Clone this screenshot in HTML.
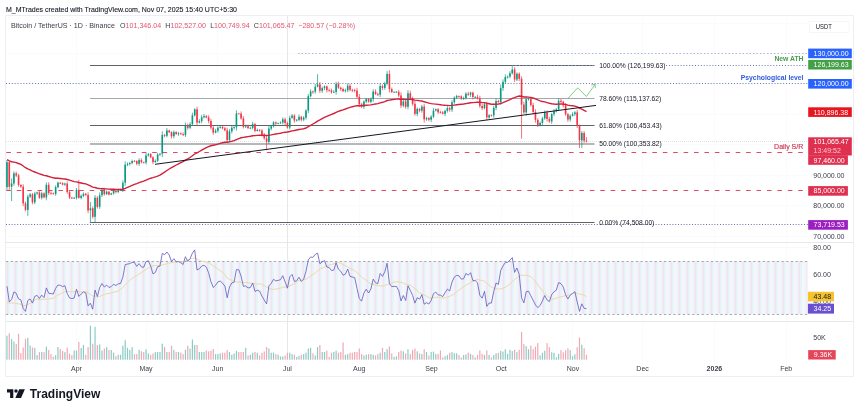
<!DOCTYPE html>
<html><head><meta charset="utf-8"><style>
html,body{margin:0;padding:0;background:#fff;overflow:hidden;}
svg{display:block;font-family:'Liberation Sans', Arial, sans-serif;will-change:transform;}
</style></head><body>
<svg width="860" height="412" viewBox="0 0 860 412">
<rect width="860" height="412" fill="#fff"/>
<path d="M76.5 16V376" stroke="#fafbfc" stroke-width="1"/>
<path d="M146.5 16V376" stroke="#fafbfc" stroke-width="1"/>
<path d="M217.5 16V376" stroke="#fafbfc" stroke-width="1"/>
<path d="M287.5 16V376" stroke="#fafbfc" stroke-width="1"/>
<path d="M359.5 16V376" stroke="#fafbfc" stroke-width="1"/>
<path d="M431.5 16V376" stroke="#fafbfc" stroke-width="1"/>
<path d="M501.5 16V376" stroke="#fafbfc" stroke-width="1"/>
<path d="M572.5 16V376" stroke="#fafbfc" stroke-width="1"/>
<path d="M642.5 16V376" stroke="#fafbfc" stroke-width="1"/>
<path d="M714.5 16V376" stroke="#fafbfc" stroke-width="1"/>
<path d="M786.5 16V376" stroke="#fafbfc" stroke-width="1"/>
<path d="M6 23.5H808" stroke="#fafbfc" stroke-width="1"/>
<path d="M6 53.5H808" stroke="#fafbfc" stroke-width="1"/>
<path d="M6 83.5H808" stroke="#fafbfc" stroke-width="1"/>
<path d="M6 114.5H808" stroke="#fafbfc" stroke-width="1"/>
<path d="M6 144.5H808" stroke="#fafbfc" stroke-width="1"/>
<path d="M6 175.5H808" stroke="#fafbfc" stroke-width="1"/>
<path d="M6 205.5H808" stroke="#fafbfc" stroke-width="1"/>
<path d="M6 236.5H808" stroke="#fafbfc" stroke-width="1"/>
<path d="M6 247.5H808" stroke="#f7f8fa" stroke-width="1"/>
<path d="M6 274.5H808" stroke="#f7f8fa" stroke-width="1"/>
<path d="M6 301.5H808" stroke="#f7f8fa" stroke-width="1"/>
<path d="M287.5 16V360" stroke="#e6e7eb" stroke-width="1"/>
<path d="M5.5 15.5V376.5H853.5V15.5H5.5" fill="none" stroke="#eceef2" stroke-width="1"/>
<path d="M6 242.5H853M6 321.5H853" stroke="#e6e8ed" stroke-width="1"/>
<path d="M298 53.5H808" stroke="#a9b8e0" stroke-width="1" stroke-dasharray="1.5 2"/>
<path d="M6 83.5H808" stroke="#6878b8" stroke-width="1" stroke-dasharray="1 1.9"/>
<path d="M666 65.5H808" stroke="#6878b8" stroke-width="1" stroke-dasharray="1 1.9"/>
<path d="M6.3 152.5H808" stroke="#e04a63" stroke-width="1" stroke-dasharray="4.6 5.82"/>
<path d="M6.3 190.5H808" stroke="#e04a63" stroke-width="1" stroke-dasharray="4.6 5.82"/>
<path d="M6 224.5H808" stroke="#7c64b4" stroke-width="1" stroke-dasharray="1 1.8"/>
<path d="M6 141.5H808" stroke="#e0e2e6" stroke-width="1" stroke-dasharray="1 1"/>
<path d="M90 65.5H594.5" stroke="#606269" stroke-width="1"/>
<path d="M90 98.5H594.5" stroke="#a4a7ae" stroke-width="1"/>
<path d="M90 125.5H594.5" stroke="#606269" stroke-width="1"/>
<path d="M90 144H594.5" stroke="#b4b8b9" stroke-width="2"/>
<path d="M90 222.5H594.5" stroke="#606269" stroke-width="1"/>
<path d="M512 65.5H595" stroke="#8a9bd0" stroke-width="1" stroke-dasharray="1 2.5"/>
<path d="M6.96 160.0V190.3" stroke="#089981" stroke-width="0.7"/>
<rect x="6.16" y="162.2" width="1.6" height="25.0" fill="#089981"/>
<path d="M9.28 161.8V190.1" stroke="#F23645" stroke-width="0.7"/>
<rect x="8.48" y="162.2" width="1.6" height="24.5" fill="#F23645"/>
<path d="M11.60 178.5V201.1" stroke="#089981" stroke-width="0.7"/>
<rect x="10.80" y="183.5" width="1.6" height="3.2" fill="#089981"/>
<path d="M13.91 171.4V185.7" stroke="#089981" stroke-width="0.7"/>
<rect x="13.11" y="173.4" width="1.6" height="10.1" fill="#089981"/>
<path d="M16.23 171.6V177.1" stroke="#F23645" stroke-width="0.7"/>
<rect x="15.43" y="173.4" width="1.6" height="2.1" fill="#F23645"/>
<path d="M18.55 173.7V186.7" stroke="#F23645" stroke-width="0.7"/>
<rect x="17.75" y="175.4" width="1.6" height="9.5" fill="#F23645"/>
<path d="M20.87 184.3V187.8" stroke="#F23645" stroke-width="0.7"/>
<rect x="20.07" y="184.9" width="1.6" height="1.8" fill="#F23645"/>
<path d="M23.19 184.3V206.2" stroke="#F23645" stroke-width="0.7"/>
<rect x="22.39" y="186.7" width="1.6" height="16.7" fill="#F23645"/>
<path d="M25.50 201.6V211.3" stroke="#F23645" stroke-width="0.7"/>
<rect x="24.70" y="203.4" width="1.6" height="6.5" fill="#F23645"/>
<path d="M27.82 194.7V215.9" stroke="#089981" stroke-width="0.7"/>
<rect x="27.02" y="196.7" width="1.6" height="13.2" fill="#089981"/>
<path d="M30.14 193.0V198.0" stroke="#089981" stroke-width="0.7"/>
<rect x="29.34" y="194.4" width="1.6" height="2.3" fill="#089981"/>
<path d="M32.46 193.1V204.3" stroke="#F23645" stroke-width="0.7"/>
<rect x="31.66" y="194.4" width="1.6" height="8.0" fill="#F23645"/>
<path d="M34.78 191.8V204.2" stroke="#089981" stroke-width="0.7"/>
<rect x="33.98" y="193.5" width="1.6" height="8.8" fill="#089981"/>
<path d="M37.09 191.6V194.8" stroke="#089981" stroke-width="0.7"/>
<rect x="36.29" y="192.4" width="1.6" height="1.1" fill="#089981"/>
<path d="M39.41 190.9V198.9" stroke="#F23645" stroke-width="0.7"/>
<rect x="38.61" y="192.4" width="1.6" height="5.4" fill="#F23645"/>
<path d="M41.73 191.9V199.5" stroke="#089981" stroke-width="0.7"/>
<rect x="40.93" y="193.4" width="1.6" height="4.4" fill="#089981"/>
<path d="M44.05 192.3V198.4" stroke="#F23645" stroke-width="0.7"/>
<rect x="43.25" y="193.4" width="1.6" height="3.9" fill="#F23645"/>
<path d="M46.37 182.4V200.3" stroke="#089981" stroke-width="0.7"/>
<rect x="45.57" y="184.8" width="1.6" height="12.6" fill="#089981"/>
<path d="M48.68 182.3V195.0" stroke="#F23645" stroke-width="0.7"/>
<rect x="47.88" y="184.8" width="1.6" height="8.2" fill="#F23645"/>
<path d="M51.00 191.5V194.7" stroke="#F23645" stroke-width="0.7"/>
<rect x="50.20" y="192.9" width="1.6" height="0.8" fill="#F23645"/>
<path d="M53.32 192.5V194.5" stroke="#F23645" stroke-width="0.7"/>
<rect x="52.52" y="193.3" width="1.6" height="0.8" fill="#F23645"/>
<path d="M55.64 185.3V195.8" stroke="#089981" stroke-width="0.7"/>
<rect x="54.84" y="187.2" width="1.6" height="6.8" fill="#089981"/>
<path d="M57.96 181.5V188.3" stroke="#089981" stroke-width="0.7"/>
<rect x="57.16" y="182.8" width="1.6" height="4.4" fill="#089981"/>
<path d="M60.27 181.9V184.1" stroke="#F23645" stroke-width="0.7"/>
<rect x="59.47" y="182.8" width="1.6" height="0.8" fill="#F23645"/>
<path d="M62.59 182.3V185.5" stroke="#F23645" stroke-width="0.7"/>
<rect x="61.79" y="183.1" width="1.6" height="1.5" fill="#F23645"/>
<path d="M64.91 182.6V186.1" stroke="#089981" stroke-width="0.7"/>
<rect x="64.11" y="183.6" width="1.6" height="1.0" fill="#089981"/>
<path d="M67.23 181.5V193.9" stroke="#F23645" stroke-width="0.7"/>
<rect x="66.43" y="183.6" width="1.6" height="8.5" fill="#F23645"/>
<path d="M69.55 190.8V199.1" stroke="#F23645" stroke-width="0.7"/>
<rect x="68.75" y="192.2" width="1.6" height="5.4" fill="#F23645"/>
<path d="M71.86 196.9V199.0" stroke="#F23645" stroke-width="0.7"/>
<rect x="71.06" y="197.6" width="1.6" height="0.8" fill="#F23645"/>
<path d="M74.18 196.9V198.8" stroke="#089981" stroke-width="0.7"/>
<rect x="73.38" y="197.9" width="1.6" height="0.8" fill="#089981"/>
<path d="M76.50 188.1V199.6" stroke="#089981" stroke-width="0.7"/>
<rect x="75.70" y="189.9" width="1.6" height="7.9" fill="#089981"/>
<path d="M78.82 179.8V198.6" stroke="#F23645" stroke-width="0.7"/>
<rect x="78.02" y="189.9" width="1.6" height="8.0" fill="#F23645"/>
<path d="M81.14 194.4V199.4" stroke="#089981" stroke-width="0.7"/>
<rect x="80.34" y="195.8" width="1.6" height="2.1" fill="#089981"/>
<path d="M83.45 192.4V197.2" stroke="#089981" stroke-width="0.7"/>
<rect x="82.65" y="193.8" width="1.6" height="2.1" fill="#089981"/>
<path d="M85.77 192.9V196.1" stroke="#F23645" stroke-width="0.7"/>
<rect x="84.97" y="193.8" width="1.6" height="1.1" fill="#F23645"/>
<path d="M88.09 192.3V213.2" stroke="#F23645" stroke-width="0.7"/>
<rect x="87.29" y="194.9" width="1.6" height="15.5" fill="#F23645"/>
<path d="M90.41 202.0V222.3" stroke="#089981" stroke-width="0.7"/>
<rect x="89.61" y="208.2" width="1.6" height="2.2" fill="#089981"/>
<path d="M92.73 206.4V218.6" stroke="#F23645" stroke-width="0.7"/>
<rect x="91.93" y="208.2" width="1.6" height="8.6" fill="#F23645"/>
<path d="M95.04 195.0V222.0" stroke="#089981" stroke-width="0.7"/>
<rect x="94.24" y="197.7" width="1.6" height="19.1" fill="#089981"/>
<path d="M97.36 196.2V208.5" stroke="#F23645" stroke-width="0.7"/>
<rect x="96.56" y="197.7" width="1.6" height="9.2" fill="#F23645"/>
<path d="M99.68 192.4V208.8" stroke="#089981" stroke-width="0.7"/>
<rect x="98.88" y="195.2" width="1.6" height="11.6" fill="#089981"/>
<path d="M102.00 187.7V197.0" stroke="#089981" stroke-width="0.7"/>
<rect x="101.20" y="189.6" width="1.6" height="5.6" fill="#089981"/>
<path d="M104.32 187.8V195.6" stroke="#F23645" stroke-width="0.7"/>
<rect x="103.52" y="189.6" width="1.6" height="4.6" fill="#F23645"/>
<path d="M106.63 190.3V194.9" stroke="#089981" stroke-width="0.7"/>
<rect x="105.83" y="191.7" width="1.6" height="2.5" fill="#089981"/>
<path d="M108.95 190.9V195.5" stroke="#F23645" stroke-width="0.7"/>
<rect x="108.15" y="191.7" width="1.6" height="2.9" fill="#F23645"/>
<path d="M111.27 192.7V195.1" stroke="#089981" stroke-width="0.7"/>
<rect x="110.47" y="193.4" width="1.6" height="1.2" fill="#089981"/>
<path d="M113.59 189.7V194.7" stroke="#089981" stroke-width="0.7"/>
<rect x="112.79" y="190.6" width="1.6" height="2.8" fill="#089981"/>
<path d="M115.91 189.8V193.6" stroke="#F23645" stroke-width="0.7"/>
<rect x="115.11" y="190.6" width="1.6" height="1.4" fill="#F23645"/>
<path d="M118.22 188.8V193.2" stroke="#089981" stroke-width="0.7"/>
<rect x="117.42" y="190.2" width="1.6" height="1.8" fill="#089981"/>
<path d="M120.54 188.7V190.9" stroke="#089981" stroke-width="0.7"/>
<rect x="119.74" y="189.9" width="1.6" height="0.8" fill="#089981"/>
<path d="M122.86 180.4V192.0" stroke="#089981" stroke-width="0.7"/>
<rect x="122.06" y="182.8" width="1.6" height="7.1" fill="#089981"/>
<path d="M125.18 161.3V185.9" stroke="#089981" stroke-width="0.7"/>
<rect x="124.38" y="164.7" width="1.6" height="18.0" fill="#089981"/>
<path d="M127.50 162.4V166.2" stroke="#089981" stroke-width="0.7"/>
<rect x="126.70" y="164.0" width="1.6" height="0.8" fill="#089981"/>
<path d="M129.81 161.8V165.6" stroke="#089981" stroke-width="0.7"/>
<rect x="129.01" y="163.1" width="1.6" height="0.9" fill="#089981"/>
<path d="M132.13 159.6V164.2" stroke="#089981" stroke-width="0.7"/>
<rect x="131.33" y="161.1" width="1.6" height="2.0" fill="#089981"/>
<path d="M134.45 160.0V161.8" stroke="#F23645" stroke-width="0.7"/>
<rect x="133.65" y="161.1" width="1.6" height="0.8" fill="#F23645"/>
<path d="M136.77 160.2V165.4" stroke="#F23645" stroke-width="0.7"/>
<rect x="135.97" y="161.1" width="1.6" height="2.7" fill="#F23645"/>
<path d="M139.09 158.2V165.9" stroke="#089981" stroke-width="0.7"/>
<rect x="138.29" y="160.1" width="1.6" height="3.7" fill="#089981"/>
<path d="M141.40 158.3V163.5" stroke="#F23645" stroke-width="0.7"/>
<rect x="140.60" y="160.1" width="1.6" height="2.1" fill="#F23645"/>
<path d="M143.72 161.6V163.4" stroke="#F23645" stroke-width="0.7"/>
<rect x="142.92" y="162.2" width="1.6" height="0.8" fill="#F23645"/>
<path d="M146.04 153.0V164.6" stroke="#089981" stroke-width="0.7"/>
<rect x="145.24" y="155.5" width="1.6" height="7.0" fill="#089981"/>
<path d="M148.36 153.0V156.6" stroke="#089981" stroke-width="0.7"/>
<rect x="147.56" y="154.2" width="1.6" height="1.3" fill="#089981"/>
<path d="M150.68 153.1V158.3" stroke="#F23645" stroke-width="0.7"/>
<rect x="149.88" y="154.2" width="1.6" height="3.1" fill="#F23645"/>
<path d="M152.99 156.2V164.2" stroke="#F23645" stroke-width="0.7"/>
<rect x="152.19" y="157.3" width="1.6" height="4.8" fill="#F23645"/>
<path d="M155.31 159.4V162.8" stroke="#089981" stroke-width="0.7"/>
<rect x="154.51" y="160.8" width="1.6" height="1.3" fill="#089981"/>
<path d="M157.63 152.8V162.0" stroke="#089981" stroke-width="0.7"/>
<rect x="156.83" y="154.5" width="1.6" height="6.3" fill="#089981"/>
<path d="M159.95 153.0V156.0" stroke="#089981" stroke-width="0.7"/>
<rect x="159.15" y="153.8" width="1.6" height="0.8" fill="#089981"/>
<path d="M162.27 131.3V157.1" stroke="#089981" stroke-width="0.7"/>
<rect x="161.47" y="134.9" width="1.6" height="18.9" fill="#089981"/>
<path d="M164.58 134.0V137.2" stroke="#F23645" stroke-width="0.7"/>
<rect x="163.78" y="134.9" width="1.6" height="0.8" fill="#F23645"/>
<path d="M166.90 128.1V137.4" stroke="#089981" stroke-width="0.7"/>
<rect x="166.10" y="130.5" width="1.6" height="5.3" fill="#089981"/>
<path d="M169.22 129.7V133.0" stroke="#F23645" stroke-width="0.7"/>
<rect x="168.42" y="130.5" width="1.6" height="1.8" fill="#F23645"/>
<path d="M171.54 131.3V138.5" stroke="#F23645" stroke-width="0.7"/>
<rect x="170.74" y="132.3" width="1.6" height="3.9" fill="#F23645"/>
<path d="M173.86 130.4V138.3" stroke="#089981" stroke-width="0.7"/>
<rect x="173.06" y="132.1" width="1.6" height="4.1" fill="#089981"/>
<path d="M176.17 131.2V135.0" stroke="#F23645" stroke-width="0.7"/>
<rect x="175.37" y="132.1" width="1.6" height="1.9" fill="#F23645"/>
<path d="M178.49 131.9V135.8" stroke="#089981" stroke-width="0.7"/>
<rect x="177.69" y="133.4" width="1.6" height="0.8" fill="#089981"/>
<path d="M180.81 132.4V134.8" stroke="#F23645" stroke-width="0.7"/>
<rect x="180.01" y="133.4" width="1.6" height="0.8" fill="#F23645"/>
<path d="M183.13 132.4V136.0" stroke="#F23645" stroke-width="0.7"/>
<rect x="182.33" y="134.2" width="1.6" height="0.9" fill="#F23645"/>
<path d="M185.45 122.5V136.9" stroke="#089981" stroke-width="0.7"/>
<rect x="184.65" y="125.2" width="1.6" height="9.9" fill="#089981"/>
<path d="M187.76 123.4V129.7" stroke="#F23645" stroke-width="0.7"/>
<rect x="186.96" y="125.2" width="1.6" height="2.6" fill="#F23645"/>
<path d="M190.08 122.2V129.1" stroke="#089981" stroke-width="0.7"/>
<rect x="189.28" y="124.1" width="1.6" height="3.6" fill="#089981"/>
<path d="M192.40 112.7V125.8" stroke="#089981" stroke-width="0.7"/>
<rect x="191.60" y="115.3" width="1.6" height="8.8" fill="#089981"/>
<path d="M194.72 108.3V116.5" stroke="#089981" stroke-width="0.7"/>
<rect x="193.92" y="109.3" width="1.6" height="6.1" fill="#089981"/>
<path d="M197.04 106.7V125.3" stroke="#F23645" stroke-width="0.7"/>
<rect x="196.24" y="109.3" width="1.6" height="13.3" fill="#F23645"/>
<path d="M199.35 119.2V123.5" stroke="#089981" stroke-width="0.7"/>
<rect x="198.55" y="121.1" width="1.6" height="1.5" fill="#089981"/>
<path d="M201.67 115.1V123.2" stroke="#089981" stroke-width="0.7"/>
<rect x="200.87" y="117.3" width="1.6" height="3.8" fill="#089981"/>
<path d="M203.99 114.0V118.4" stroke="#089981" stroke-width="0.7"/>
<rect x="203.19" y="116.1" width="1.6" height="1.2" fill="#089981"/>
<path d="M206.31 115.1V118.4" stroke="#F23645" stroke-width="0.7"/>
<rect x="205.51" y="116.1" width="1.6" height="1.4" fill="#F23645"/>
<path d="M208.63 115.3V123.3" stroke="#F23645" stroke-width="0.7"/>
<rect x="207.83" y="117.4" width="1.6" height="3.6" fill="#F23645"/>
<path d="M210.94 118.8V129.5" stroke="#F23645" stroke-width="0.7"/>
<rect x="210.14" y="121.0" width="1.6" height="6.6" fill="#F23645"/>
<path d="M213.26 126.2V134.8" stroke="#F23645" stroke-width="0.7"/>
<rect x="212.46" y="127.6" width="1.6" height="5.0" fill="#F23645"/>
<path d="M215.58 128.8V133.4" stroke="#089981" stroke-width="0.7"/>
<rect x="214.78" y="130.7" width="1.6" height="1.9" fill="#089981"/>
<path d="M217.90 126.5V132.7" stroke="#089981" stroke-width="0.7"/>
<rect x="217.10" y="127.6" width="1.6" height="3.1" fill="#089981"/>
<path d="M220.22 125.1V128.6" stroke="#089981" stroke-width="0.7"/>
<rect x="219.42" y="126.9" width="1.6" height="0.8" fill="#089981"/>
<path d="M222.53 125.9V129.5" stroke="#F23645" stroke-width="0.7"/>
<rect x="221.73" y="126.9" width="1.6" height="1.4" fill="#F23645"/>
<path d="M224.85 126.8V131.2" stroke="#F23645" stroke-width="0.7"/>
<rect x="224.05" y="128.3" width="1.6" height="2.1" fill="#F23645"/>
<path d="M227.17 127.6V142.3" stroke="#F23645" stroke-width="0.7"/>
<rect x="226.37" y="130.4" width="1.6" height="9.6" fill="#F23645"/>
<path d="M229.49 128.9V141.8" stroke="#089981" stroke-width="0.7"/>
<rect x="228.69" y="131.4" width="1.6" height="8.6" fill="#089981"/>
<path d="M231.81 125.4V133.4" stroke="#089981" stroke-width="0.7"/>
<rect x="231.01" y="127.7" width="1.6" height="3.7" fill="#089981"/>
<path d="M234.12 126.2V129.6" stroke="#089981" stroke-width="0.7"/>
<rect x="233.32" y="127.2" width="1.6" height="0.8" fill="#089981"/>
<path d="M236.44 110.3V130.5" stroke="#089981" stroke-width="0.7"/>
<rect x="235.64" y="113.5" width="1.6" height="13.7" fill="#089981"/>
<path d="M238.76 112.9V114.1" stroke="#F23645" stroke-width="0.7"/>
<rect x="237.96" y="113.5" width="1.6" height="0.8" fill="#F23645"/>
<path d="M241.08 111.4V119.8" stroke="#F23645" stroke-width="0.7"/>
<rect x="240.28" y="113.6" width="1.6" height="4.8" fill="#F23645"/>
<path d="M243.40 116.1V128.4" stroke="#F23645" stroke-width="0.7"/>
<rect x="242.60" y="118.4" width="1.6" height="8.4" fill="#F23645"/>
<path d="M245.71 124.6V127.9" stroke="#089981" stroke-width="0.7"/>
<rect x="244.91" y="126.4" width="1.6" height="0.8" fill="#089981"/>
<path d="M248.03 124.6V128.9" stroke="#F23645" stroke-width="0.7"/>
<rect x="247.23" y="126.4" width="1.6" height="1.7" fill="#F23645"/>
<path d="M250.35 126.7V128.7" stroke="#089981" stroke-width="0.7"/>
<rect x="249.55" y="127.9" width="1.6" height="0.8" fill="#089981"/>
<path d="M252.67 121.9V129.4" stroke="#089981" stroke-width="0.7"/>
<rect x="251.87" y="124.1" width="1.6" height="3.8" fill="#089981"/>
<path d="M254.99 122.8V132.3" stroke="#F23645" stroke-width="0.7"/>
<rect x="254.19" y="124.1" width="1.6" height="6.8" fill="#F23645"/>
<path d="M257.30 128.6V131.6" stroke="#089981" stroke-width="0.7"/>
<rect x="256.50" y="129.9" width="1.6" height="1.0" fill="#089981"/>
<path d="M259.62 129.1V131.7" stroke="#F23645" stroke-width="0.7"/>
<rect x="258.82" y="129.9" width="1.6" height="0.8" fill="#F23645"/>
<path d="M261.94 129.0V136.5" stroke="#F23645" stroke-width="0.7"/>
<rect x="261.14" y="130.6" width="1.6" height="4.1" fill="#F23645"/>
<path d="M264.26 133.0V139.7" stroke="#F23645" stroke-width="0.7"/>
<rect x="263.46" y="134.7" width="1.6" height="3.6" fill="#F23645"/>
<path d="M266.58 134.7V150.3" stroke="#F23645" stroke-width="0.7"/>
<rect x="265.78" y="138.3" width="1.6" height="3.5" fill="#F23645"/>
<path d="M268.89 125.6V144.1" stroke="#089981" stroke-width="0.7"/>
<rect x="268.09" y="128.6" width="1.6" height="13.3" fill="#089981"/>
<path d="M271.21 125.2V130.4" stroke="#089981" stroke-width="0.7"/>
<rect x="270.41" y="126.3" width="1.6" height="2.3" fill="#089981"/>
<path d="M273.53 121.3V127.5" stroke="#089981" stroke-width="0.7"/>
<rect x="272.73" y="122.4" width="1.6" height="3.8" fill="#089981"/>
<path d="M275.85 121.5V124.9" stroke="#F23645" stroke-width="0.7"/>
<rect x="275.05" y="122.4" width="1.6" height="1.2" fill="#F23645"/>
<path d="M278.17 122.7V124.1" stroke="#089981" stroke-width="0.7"/>
<rect x="277.37" y="123.2" width="1.6" height="0.8" fill="#089981"/>
<path d="M280.48 121.3V124.0" stroke="#089981" stroke-width="0.7"/>
<rect x="279.68" y="122.5" width="1.6" height="0.8" fill="#089981"/>
<path d="M282.80 117.4V124.5" stroke="#089981" stroke-width="0.7"/>
<rect x="282.00" y="119.3" width="1.6" height="3.2" fill="#089981"/>
<path d="M285.12 117.5V125.0" stroke="#F23645" stroke-width="0.7"/>
<rect x="284.32" y="119.3" width="1.6" height="3.8" fill="#F23645"/>
<path d="M287.44 121.5V128.5" stroke="#F23645" stroke-width="0.7"/>
<rect x="286.64" y="123.1" width="1.6" height="4.4" fill="#F23645"/>
<path d="M289.76 115.6V129.6" stroke="#089981" stroke-width="0.7"/>
<rect x="288.96" y="117.9" width="1.6" height="9.6" fill="#089981"/>
<path d="M292.07 114.0V118.8" stroke="#089981" stroke-width="0.7"/>
<rect x="291.27" y="115.6" width="1.6" height="2.2" fill="#089981"/>
<path d="M294.39 114.2V122.7" stroke="#F23645" stroke-width="0.7"/>
<rect x="293.59" y="115.6" width="1.6" height="4.9" fill="#F23645"/>
<path d="M296.71 118.9V121.6" stroke="#089981" stroke-width="0.7"/>
<rect x="295.91" y="119.8" width="1.6" height="0.8" fill="#089981"/>
<path d="M299.03 114.6V121.1" stroke="#089981" stroke-width="0.7"/>
<rect x="298.23" y="116.8" width="1.6" height="3.1" fill="#089981"/>
<path d="M301.35 115.8V121.5" stroke="#F23645" stroke-width="0.7"/>
<rect x="300.55" y="116.8" width="1.6" height="2.9" fill="#F23645"/>
<path d="M303.66 116.1V121.2" stroke="#089981" stroke-width="0.7"/>
<rect x="302.86" y="117.6" width="1.6" height="2.0" fill="#089981"/>
<path d="M305.98 109.2V119.6" stroke="#089981" stroke-width="0.7"/>
<rect x="305.18" y="110.6" width="1.6" height="7.0" fill="#089981"/>
<path d="M308.30 93.9V113.2" stroke="#089981" stroke-width="0.7"/>
<rect x="307.50" y="96.1" width="1.6" height="14.5" fill="#089981"/>
<path d="M310.62 89.3V97.3" stroke="#089981" stroke-width="0.7"/>
<rect x="309.82" y="91.5" width="1.6" height="4.7" fill="#089981"/>
<path d="M312.94 90.5V93.8" stroke="#F23645" stroke-width="0.7"/>
<rect x="312.14" y="91.5" width="1.6" height="0.8" fill="#F23645"/>
<path d="M315.25 84.0V93.6" stroke="#089981" stroke-width="0.7"/>
<rect x="314.45" y="86.7" width="1.6" height="5.0" fill="#089981"/>
<path d="M317.57 74.2V87.3" stroke="#089981" stroke-width="0.7"/>
<rect x="316.77" y="84.4" width="1.6" height="2.3" fill="#089981"/>
<path d="M319.89 82.0V93.0" stroke="#F23645" stroke-width="0.7"/>
<rect x="319.09" y="84.4" width="1.6" height="6.3" fill="#F23645"/>
<path d="M322.21 86.5V92.9" stroke="#089981" stroke-width="0.7"/>
<rect x="321.41" y="88.1" width="1.6" height="2.7" fill="#089981"/>
<path d="M324.53 85.5V90.1" stroke="#089981" stroke-width="0.7"/>
<rect x="323.73" y="86.4" width="1.6" height="1.7" fill="#089981"/>
<path d="M326.84 85.4V92.6" stroke="#F23645" stroke-width="0.7"/>
<rect x="326.04" y="86.4" width="1.6" height="3.8" fill="#F23645"/>
<path d="M329.16 88.6V91.7" stroke="#F23645" stroke-width="0.7"/>
<rect x="328.36" y="90.3" width="1.6" height="0.8" fill="#F23645"/>
<path d="M331.48 88.7V93.7" stroke="#F23645" stroke-width="0.7"/>
<rect x="330.68" y="90.5" width="1.6" height="1.7" fill="#F23645"/>
<path d="M333.80 90.1V93.0" stroke="#089981" stroke-width="0.7"/>
<rect x="333.00" y="91.9" width="1.6" height="0.8" fill="#089981"/>
<path d="M336.12 81.8V94.7" stroke="#089981" stroke-width="0.7"/>
<rect x="335.32" y="84.1" width="1.6" height="7.8" fill="#089981"/>
<path d="M338.43 81.6V89.0" stroke="#F23645" stroke-width="0.7"/>
<rect x="337.63" y="84.1" width="1.6" height="3.6" fill="#F23645"/>
<path d="M340.75 86.7V91.1" stroke="#F23645" stroke-width="0.7"/>
<rect x="339.95" y="87.7" width="1.6" height="1.3" fill="#F23645"/>
<path d="M343.07 87.7V92.0" stroke="#F23645" stroke-width="0.7"/>
<rect x="342.27" y="89.0" width="1.6" height="2.2" fill="#F23645"/>
<path d="M345.39 88.5V92.5" stroke="#089981" stroke-width="0.7"/>
<rect x="344.59" y="90.3" width="1.6" height="0.9" fill="#089981"/>
<path d="M347.71 83.5V92.1" stroke="#089981" stroke-width="0.7"/>
<rect x="346.91" y="85.7" width="1.6" height="4.6" fill="#089981"/>
<path d="M350.02 83.9V91.5" stroke="#F23645" stroke-width="0.7"/>
<rect x="349.22" y="85.7" width="1.6" height="4.1" fill="#F23645"/>
<path d="M352.34 88.8V92.2" stroke="#F23645" stroke-width="0.7"/>
<rect x="351.54" y="89.8" width="1.6" height="0.8" fill="#F23645"/>
<path d="M354.66 88.6V92.3" stroke="#F23645" stroke-width="0.7"/>
<rect x="353.86" y="90.2" width="1.6" height="0.8" fill="#F23645"/>
<path d="M356.98 87.8V98.5" stroke="#F23645" stroke-width="0.7"/>
<rect x="356.18" y="90.5" width="1.6" height="6.3" fill="#F23645"/>
<path d="M359.30 94.0V107.0" stroke="#F23645" stroke-width="0.7"/>
<rect x="358.50" y="96.8" width="1.6" height="7.5" fill="#F23645"/>
<path d="M361.61 102.8V108.2" stroke="#F23645" stroke-width="0.7"/>
<rect x="360.81" y="104.3" width="1.6" height="2.3" fill="#F23645"/>
<path d="M363.93 100.3V108.9" stroke="#089981" stroke-width="0.7"/>
<rect x="363.13" y="101.6" width="1.6" height="5.1" fill="#089981"/>
<path d="M366.25 97.9V103.2" stroke="#089981" stroke-width="0.7"/>
<rect x="365.45" y="99.0" width="1.6" height="2.6" fill="#089981"/>
<path d="M368.57 98.0V102.7" stroke="#F23645" stroke-width="0.7"/>
<rect x="367.77" y="99.0" width="1.6" height="2.8" fill="#F23645"/>
<path d="M370.89 97.4V103.4" stroke="#089981" stroke-width="0.7"/>
<rect x="370.09" y="99.2" width="1.6" height="2.6" fill="#089981"/>
<path d="M373.20 89.2V101.8" stroke="#089981" stroke-width="0.7"/>
<rect x="372.40" y="91.6" width="1.6" height="7.5" fill="#089981"/>
<path d="M375.52 89.3V95.0" stroke="#F23645" stroke-width="0.7"/>
<rect x="374.72" y="91.6" width="1.6" height="2.4" fill="#F23645"/>
<path d="M377.84 92.5V96.2" stroke="#F23645" stroke-width="0.7"/>
<rect x="377.04" y="94.1" width="1.6" height="0.8" fill="#F23645"/>
<path d="M380.16 83.5V97.1" stroke="#089981" stroke-width="0.7"/>
<rect x="379.36" y="86.1" width="1.6" height="8.6" fill="#089981"/>
<path d="M382.48 84.5V90.1" stroke="#F23645" stroke-width="0.7"/>
<rect x="381.68" y="86.1" width="1.6" height="1.8" fill="#F23645"/>
<path d="M384.79 81.8V89.8" stroke="#089981" stroke-width="0.7"/>
<rect x="383.99" y="83.5" width="1.6" height="4.4" fill="#089981"/>
<path d="M387.11 71.1V85.3" stroke="#089981" stroke-width="0.7"/>
<rect x="386.31" y="73.9" width="1.6" height="9.6" fill="#089981"/>
<path d="M389.43 70.3V92.5" stroke="#F23645" stroke-width="0.7"/>
<rect x="388.63" y="73.9" width="1.6" height="15.2" fill="#F23645"/>
<path d="M391.75 87.6V93.0" stroke="#F23645" stroke-width="0.7"/>
<rect x="390.95" y="89.1" width="1.6" height="2.9" fill="#F23645"/>
<path d="M394.07 91.2V92.5" stroke="#089981" stroke-width="0.7"/>
<rect x="393.27" y="91.9" width="1.6" height="0.8" fill="#089981"/>
<path d="M396.38 91.0V92.7" stroke="#089981" stroke-width="0.7"/>
<rect x="395.58" y="91.8" width="1.6" height="0.8" fill="#089981"/>
<path d="M398.70 90.1V97.2" stroke="#F23645" stroke-width="0.7"/>
<rect x="397.90" y="91.8" width="1.6" height="3.6" fill="#F23645"/>
<path d="M401.02 92.4V108.1" stroke="#F23645" stroke-width="0.7"/>
<rect x="400.22" y="95.4" width="1.6" height="10.2" fill="#F23645"/>
<path d="M403.34 99.0V107.2" stroke="#089981" stroke-width="0.7"/>
<rect x="402.54" y="101.4" width="1.6" height="4.3" fill="#089981"/>
<path d="M405.66 99.1V108.7" stroke="#F23645" stroke-width="0.7"/>
<rect x="404.86" y="101.4" width="1.6" height="5.4" fill="#F23645"/>
<path d="M407.97 90.2V109.3" stroke="#089981" stroke-width="0.7"/>
<rect x="407.17" y="93.3" width="1.6" height="13.5" fill="#089981"/>
<path d="M410.29 90.7V100.3" stroke="#F23645" stroke-width="0.7"/>
<rect x="409.49" y="93.3" width="1.6" height="4.8" fill="#F23645"/>
<path d="M412.61 96.6V105.8" stroke="#F23645" stroke-width="0.7"/>
<rect x="411.81" y="98.0" width="1.6" height="5.8" fill="#F23645"/>
<path d="M414.93 100.6V115.7" stroke="#F23645" stroke-width="0.7"/>
<rect x="414.13" y="103.8" width="1.6" height="10.1" fill="#F23645"/>
<path d="M417.25 107.3V116.2" stroke="#089981" stroke-width="0.7"/>
<rect x="416.45" y="108.9" width="1.6" height="5.1" fill="#089981"/>
<path d="M419.56 108.1V112.4" stroke="#F23645" stroke-width="0.7"/>
<rect x="418.76" y="108.9" width="1.6" height="1.8" fill="#F23645"/>
<path d="M421.88 104.8V112.7" stroke="#089981" stroke-width="0.7"/>
<rect x="421.08" y="106.6" width="1.6" height="4.0" fill="#089981"/>
<path d="M424.20 103.8V122.7" stroke="#F23645" stroke-width="0.7"/>
<rect x="423.40" y="106.6" width="1.6" height="12.7" fill="#F23645"/>
<path d="M426.52 116.8V120.8" stroke="#089981" stroke-width="0.7"/>
<rect x="425.72" y="118.0" width="1.6" height="1.3" fill="#089981"/>
<path d="M428.84 117.2V121.2" stroke="#F23645" stroke-width="0.7"/>
<rect x="428.04" y="118.0" width="1.6" height="1.7" fill="#F23645"/>
<path d="M431.15 115.2V122.0" stroke="#089981" stroke-width="0.7"/>
<rect x="430.35" y="116.7" width="1.6" height="3.0" fill="#089981"/>
<path d="M433.47 108.0V118.1" stroke="#089981" stroke-width="0.7"/>
<rect x="432.67" y="110.6" width="1.6" height="6.1" fill="#089981"/>
<path d="M435.79 108.5V111.4" stroke="#089981" stroke-width="0.7"/>
<rect x="434.99" y="109.2" width="1.6" height="1.4" fill="#089981"/>
<path d="M438.11 108.1V114.1" stroke="#F23645" stroke-width="0.7"/>
<rect x="437.31" y="109.2" width="1.6" height="3.0" fill="#F23645"/>
<path d="M440.43 110.8V113.6" stroke="#F23645" stroke-width="0.7"/>
<rect x="439.63" y="112.1" width="1.6" height="0.8" fill="#F23645"/>
<path d="M442.74 111.0V114.4" stroke="#F23645" stroke-width="0.7"/>
<rect x="441.94" y="112.4" width="1.6" height="1.4" fill="#F23645"/>
<path d="M445.06 109.5V116.1" stroke="#089981" stroke-width="0.7"/>
<rect x="444.26" y="110.9" width="1.6" height="2.9" fill="#089981"/>
<path d="M447.38 106.0V112.6" stroke="#089981" stroke-width="0.7"/>
<rect x="446.58" y="108.1" width="1.6" height="2.8" fill="#089981"/>
<path d="M449.70 107.1V111.7" stroke="#F23645" stroke-width="0.7"/>
<rect x="448.90" y="108.1" width="1.6" height="1.6" fill="#F23645"/>
<path d="M452.02 100.3V111.9" stroke="#089981" stroke-width="0.7"/>
<rect x="451.22" y="102.3" width="1.6" height="7.3" fill="#089981"/>
<path d="M454.33 96.3V103.8" stroke="#089981" stroke-width="0.7"/>
<rect x="453.53" y="97.7" width="1.6" height="4.6" fill="#089981"/>
<path d="M456.65 94.8V99.0" stroke="#089981" stroke-width="0.7"/>
<rect x="455.85" y="96.0" width="1.6" height="1.7" fill="#089981"/>
<path d="M458.97 95.5V97.8" stroke="#F23645" stroke-width="0.7"/>
<rect x="458.17" y="96.0" width="1.6" height="0.8" fill="#F23645"/>
<path d="M461.29 95.3V100.0" stroke="#F23645" stroke-width="0.7"/>
<rect x="460.49" y="96.3" width="1.6" height="2.1" fill="#F23645"/>
<path d="M463.61 96.6V99.9" stroke="#089981" stroke-width="0.7"/>
<rect x="462.81" y="98.1" width="1.6" height="0.8" fill="#089981"/>
<path d="M465.92 92.2V99.5" stroke="#089981" stroke-width="0.7"/>
<rect x="465.12" y="93.7" width="1.6" height="4.4" fill="#089981"/>
<path d="M468.24 91.9V95.9" stroke="#F23645" stroke-width="0.7"/>
<rect x="467.44" y="93.7" width="1.6" height="1.0" fill="#F23645"/>
<path d="M470.56 91.7V96.9" stroke="#089981" stroke-width="0.7"/>
<rect x="469.76" y="92.6" width="1.6" height="2.0" fill="#089981"/>
<path d="M472.88 91.6V99.5" stroke="#F23645" stroke-width="0.7"/>
<rect x="472.08" y="92.6" width="1.6" height="4.4" fill="#F23645"/>
<path d="M475.20 96.0V98.1" stroke="#089981" stroke-width="0.7"/>
<rect x="474.40" y="97.0" width="1.6" height="0.8" fill="#089981"/>
<path d="M477.51 94.8V99.5" stroke="#F23645" stroke-width="0.7"/>
<rect x="476.71" y="97.0" width="1.6" height="1.3" fill="#F23645"/>
<path d="M479.83 95.7V108.0" stroke="#F23645" stroke-width="0.7"/>
<rect x="479.03" y="98.2" width="1.6" height="7.8" fill="#F23645"/>
<path d="M482.15 103.9V110.1" stroke="#F23645" stroke-width="0.7"/>
<rect x="481.35" y="106.0" width="1.6" height="2.2" fill="#F23645"/>
<path d="M484.47 102.5V109.3" stroke="#089981" stroke-width="0.7"/>
<rect x="483.67" y="104.2" width="1.6" height="4.0" fill="#089981"/>
<path d="M486.79 101.6V120.2" stroke="#F23645" stroke-width="0.7"/>
<rect x="485.99" y="104.2" width="1.6" height="13.2" fill="#F23645"/>
<path d="M489.10 114.1V118.9" stroke="#089981" stroke-width="0.7"/>
<rect x="488.30" y="115.3" width="1.6" height="2.2" fill="#089981"/>
<path d="M491.42 114.5V116.5" stroke="#F23645" stroke-width="0.7"/>
<rect x="490.62" y="115.3" width="1.6" height="0.8" fill="#F23645"/>
<path d="M493.74 105.7V117.7" stroke="#089981" stroke-width="0.7"/>
<rect x="492.94" y="107.9" width="1.6" height="7.4" fill="#089981"/>
<path d="M496.06 98.5V110.3" stroke="#089981" stroke-width="0.7"/>
<rect x="495.26" y="101.0" width="1.6" height="6.9" fill="#089981"/>
<path d="M498.38 99.7V103.3" stroke="#F23645" stroke-width="0.7"/>
<rect x="497.58" y="101.0" width="1.6" height="1.0" fill="#F23645"/>
<path d="M500.69 84.5V104.7" stroke="#089981" stroke-width="0.7"/>
<rect x="499.89" y="88.1" width="1.6" height="14.0" fill="#089981"/>
<path d="M503.01 79.4V90.9" stroke="#089981" stroke-width="0.7"/>
<rect x="502.21" y="81.9" width="1.6" height="6.2" fill="#089981"/>
<path d="M505.33 74.4V83.8" stroke="#089981" stroke-width="0.7"/>
<rect x="504.53" y="77.0" width="1.6" height="4.8" fill="#089981"/>
<path d="M507.65 75.5V78.6" stroke="#089981" stroke-width="0.7"/>
<rect x="506.85" y="76.6" width="1.6" height="0.8" fill="#089981"/>
<path d="M509.97 71.2V78.3" stroke="#089981" stroke-width="0.7"/>
<rect x="509.17" y="73.3" width="1.6" height="3.3" fill="#089981"/>
<path d="M512.28 65.1V74.5" stroke="#089981" stroke-width="0.7"/>
<rect x="511.48" y="69.5" width="1.6" height="3.8" fill="#089981"/>
<path d="M514.60 67.2V82.0" stroke="#F23645" stroke-width="0.7"/>
<rect x="513.80" y="69.5" width="1.6" height="10.0" fill="#F23645"/>
<path d="M516.92 72.4V81.2" stroke="#089981" stroke-width="0.7"/>
<rect x="516.12" y="73.7" width="1.6" height="5.8" fill="#089981"/>
<path d="M519.24 72.4V81.0" stroke="#F23645" stroke-width="0.7"/>
<rect x="518.44" y="73.7" width="1.6" height="5.0" fill="#F23645"/>
<path d="M521.56 76.3V138.7" stroke="#F23645" stroke-width="0.7"/>
<rect x="520.76" y="78.8" width="1.6" height="25.8" fill="#F23645"/>
<path d="M523.87 101.7V114.0" stroke="#F23645" stroke-width="0.7"/>
<rect x="523.07" y="104.6" width="1.6" height="7.8" fill="#F23645"/>
<path d="M526.19 97.2V115.6" stroke="#089981" stroke-width="0.7"/>
<rect x="525.39" y="99.3" width="1.6" height="13.1" fill="#089981"/>
<path d="M528.51 97.5V100.6" stroke="#089981" stroke-width="0.7"/>
<rect x="527.71" y="98.6" width="1.6" height="0.8" fill="#089981"/>
<path d="M530.83 97.3V106.7" stroke="#F23645" stroke-width="0.7"/>
<rect x="530.03" y="98.6" width="1.6" height="6.5" fill="#F23645"/>
<path d="M533.15 102.8V114.2" stroke="#F23645" stroke-width="0.7"/>
<rect x="532.35" y="105.1" width="1.6" height="6.9" fill="#F23645"/>
<path d="M535.46 109.3V122.7" stroke="#F23645" stroke-width="0.7"/>
<rect x="534.66" y="112.0" width="1.6" height="7.8" fill="#F23645"/>
<path d="M537.78 118.3V127.1" stroke="#F23645" stroke-width="0.7"/>
<rect x="536.98" y="119.9" width="1.6" height="5.2" fill="#F23645"/>
<path d="M540.10 121.5V126.5" stroke="#089981" stroke-width="0.7"/>
<rect x="539.30" y="122.9" width="1.6" height="2.2" fill="#089981"/>
<path d="M542.42 116.9V125.3" stroke="#089981" stroke-width="0.7"/>
<rect x="541.62" y="118.4" width="1.6" height="4.5" fill="#089981"/>
<path d="M544.74 110.5V119.8" stroke="#089981" stroke-width="0.7"/>
<rect x="543.94" y="112.6" width="1.6" height="5.8" fill="#089981"/>
<path d="M547.05 110.3V121.6" stroke="#F23645" stroke-width="0.7"/>
<rect x="546.25" y="112.6" width="1.6" height="6.4" fill="#F23645"/>
<path d="M549.37 116.9V122.9" stroke="#F23645" stroke-width="0.7"/>
<rect x="548.57" y="119.0" width="1.6" height="2.4" fill="#F23645"/>
<path d="M551.69 112.8V123.9" stroke="#089981" stroke-width="0.7"/>
<rect x="550.89" y="114.2" width="1.6" height="7.2" fill="#089981"/>
<path d="M554.01 109.0V116.1" stroke="#089981" stroke-width="0.7"/>
<rect x="553.21" y="111.2" width="1.6" height="2.9" fill="#089981"/>
<path d="M556.33 108.0V112.5" stroke="#089981" stroke-width="0.7"/>
<rect x="555.53" y="109.4" width="1.6" height="1.8" fill="#089981"/>
<path d="M558.64 98.1V111.0" stroke="#089981" stroke-width="0.7"/>
<rect x="557.84" y="100.8" width="1.6" height="8.6" fill="#089981"/>
<path d="M560.96 98.9V103.2" stroke="#F23645" stroke-width="0.7"/>
<rect x="560.16" y="100.8" width="1.6" height="1.1" fill="#F23645"/>
<path d="M563.28 100.8V107.5" stroke="#F23645" stroke-width="0.7"/>
<rect x="562.48" y="101.8" width="1.6" height="3.5" fill="#F23645"/>
<path d="M565.60 103.2V115.9" stroke="#F23645" stroke-width="0.7"/>
<rect x="564.80" y="105.4" width="1.6" height="8.8" fill="#F23645"/>
<path d="M567.92 112.8V121.9" stroke="#F23645" stroke-width="0.7"/>
<rect x="567.12" y="114.2" width="1.6" height="5.3" fill="#F23645"/>
<path d="M570.23 114.5V121.6" stroke="#089981" stroke-width="0.7"/>
<rect x="569.43" y="115.7" width="1.6" height="3.8" fill="#089981"/>
<path d="M572.55 112.3V116.5" stroke="#089981" stroke-width="0.7"/>
<rect x="571.75" y="114.2" width="1.6" height="1.5" fill="#089981"/>
<path d="M574.87 111.1V116.0" stroke="#089981" stroke-width="0.7"/>
<rect x="574.07" y="112.4" width="1.6" height="1.7" fill="#089981"/>
<path d="M577.19 109.7V128.1" stroke="#F23645" stroke-width="0.7"/>
<rect x="576.39" y="112.4" width="1.6" height="12.4" fill="#F23645"/>
<path d="M579.51 124.7V148.0" stroke="#F23645" stroke-width="0.7"/>
<rect x="578.71" y="124.9" width="1.6" height="15.4" fill="#F23645"/>
<path d="M581.82 131.1V148.1" stroke="#089981" stroke-width="0.7"/>
<rect x="581.02" y="133.0" width="1.6" height="7.3" fill="#089981"/>
<path d="M584.14 131.1V142.9" stroke="#F23645" stroke-width="0.7"/>
<rect x="583.34" y="133.0" width="1.6" height="7.7" fill="#F23645"/>
<path d="M586.46 137.1V142.5" stroke="#F23645" stroke-width="0.7"/>
<rect x="585.66" y="140.7" width="1.6" height="0.9" fill="#F23645"/>
<path d="M7.0 159.7 L9.3 160.8 L11.6 161.7 L13.9 162.1 L16.2 162.6 L18.5 163.5 L20.9 164.4 L23.2 166.0 L25.5 167.7 L27.8 168.8 L30.1 169.8 L32.5 171.1 L34.8 172.0 L37.1 172.8 L39.4 173.8 L41.7 174.5 L44.0 175.4 L46.4 175.8 L48.7 176.5 L51.0 177.1 L53.3 177.8 L55.6 178.2 L58.0 178.3 L60.3 178.5 L62.6 178.8 L64.9 179.0 L67.2 179.5 L69.5 180.2 L71.9 180.9 L74.2 181.6 L76.5 181.9 L78.8 182.5 L81.1 183.0 L83.5 183.5 L85.8 183.9 L88.1 184.9 L90.4 185.9 L92.7 187.1 L95.0 187.5 L97.4 188.2 L99.7 188.5 L102.0 188.6 L104.3 188.8 L106.6 188.9 L109.0 189.1 L111.3 189.3 L113.6 189.3 L115.9 189.4 L118.2 189.5 L120.5 189.5 L122.9 189.2 L125.2 188.3 L127.5 187.3 L129.8 186.4 L132.1 185.4 L134.4 184.4 L136.8 183.6 L139.1 182.7 L141.4 181.9 L143.7 181.1 L146.0 180.1 L148.4 179.1 L150.7 178.2 L153.0 177.6 L155.3 176.9 L157.6 176.1 L159.9 175.2 L162.3 173.6 L164.6 172.1 L166.9 170.5 L169.2 169.0 L171.5 167.7 L173.9 166.3 L176.2 165.0 L178.5 163.8 L180.8 162.6 L183.1 161.6 L185.4 160.1 L187.8 158.9 L190.1 157.5 L192.4 155.8 L194.7 154.0 L197.0 152.8 L199.4 151.5 L201.7 150.2 L204.0 148.9 L206.3 147.6 L208.6 146.6 L210.9 145.8 L213.3 145.3 L215.6 144.8 L217.9 144.1 L220.2 143.4 L222.5 142.8 L224.9 142.3 L227.2 142.2 L229.5 141.8 L231.8 141.3 L234.1 140.7 L236.4 139.6 L238.8 138.6 L241.1 137.8 L243.4 137.4 L245.7 137.0 L248.0 136.6 L250.3 136.3 L252.7 135.8 L255.0 135.6 L257.3 135.4 L259.6 135.2 L261.9 135.2 L264.3 135.3 L266.6 135.6 L268.9 135.3 L271.2 134.9 L273.5 134.4 L275.8 134.0 L278.2 133.6 L280.5 133.2 L282.8 132.6 L285.1 132.2 L287.4 132.0 L289.8 131.5 L292.1 130.9 L294.4 130.5 L296.7 130.0 L299.0 129.5 L301.3 129.1 L303.7 128.7 L306.0 128.0 L308.3 126.7 L310.6 125.3 L312.9 124.0 L315.3 122.6 L317.6 121.1 L319.9 119.9 L322.2 118.6 L324.5 117.4 L326.8 116.3 L329.2 115.3 L331.5 114.4 L333.8 113.5 L336.1 112.4 L338.4 111.4 L340.8 110.5 L343.1 109.8 L345.4 109.0 L347.7 108.1 L350.0 107.4 L352.3 106.7 L354.7 106.1 L357.0 105.7 L359.3 105.6 L361.6 105.7 L363.9 105.5 L366.2 105.3 L368.6 105.1 L370.9 104.9 L373.2 104.4 L375.5 104.0 L377.8 103.6 L380.2 102.9 L382.5 102.3 L384.8 101.6 L387.1 100.5 L389.4 100.1 L391.7 99.7 L394.1 99.4 L396.4 99.1 L398.7 99.0 L401.0 99.3 L403.3 99.3 L405.7 99.6 L408.0 99.4 L410.3 99.3 L412.6 99.5 L414.9 100.1 L417.2 100.4 L419.6 100.8 L421.9 101.0 L424.2 101.8 L426.5 102.4 L428.8 103.1 L431.2 103.6 L433.5 103.9 L435.8 104.1 L438.1 104.4 L440.4 104.7 L442.7 105.1 L445.1 105.3 L447.4 105.4 L449.7 105.6 L452.0 105.4 L454.3 105.1 L456.7 104.8 L459.0 104.5 L461.3 104.2 L463.6 104.0 L465.9 103.6 L468.2 103.2 L470.6 102.8 L472.9 102.6 L475.2 102.4 L477.5 102.2 L479.8 102.3 L482.2 102.6 L484.5 102.6 L486.8 103.2 L489.1 103.7 L491.4 104.2 L493.7 104.3 L496.1 104.2 L498.4 104.1 L500.7 103.5 L503.0 102.6 L505.3 101.6 L507.6 100.6 L510.0 99.6 L512.3 98.4 L514.6 97.6 L516.9 96.7 L519.2 96.0 L521.6 96.3 L523.9 97.0 L526.2 97.0 L528.5 97.1 L530.8 97.4 L533.1 98.0 L535.5 98.9 L537.8 99.9 L540.1 100.8 L542.4 101.5 L544.7 101.9 L547.1 102.6 L549.4 103.3 L551.7 103.7 L554.0 104.0 L556.3 104.2 L558.6 104.1 L561.0 104.0 L563.3 104.1 L565.6 104.5 L567.9 105.1 L570.2 105.5 L572.6 105.8 L574.9 106.1 L577.2 106.8 L579.5 108.1 L581.8 109.1 L584.1 110.3 L586.5 111.6" fill="none" stroke="#d42039" stroke-width="1.4"/>
<path d="M155 164.3L596 105.4" stroke="#131722" stroke-width="1"/>
<path d="M568 98.3L577.7 87.8L586.4 96.5L595 84.5" fill="none" stroke="#66bb6a" stroke-width="0.8"/>
<path d="M591.3 85L595 84.3L595.4 88" fill="none" stroke="#66bb6a" stroke-width="0.8"/>
<text x="599.3" y="67.5" font-size="6.7" fill="#131722" text-anchor="start" font-weight="normal" >100.00% (126,199.63)</text>
<text x="599.3" y="101.1" font-size="6.7" fill="#131722" text-anchor="start" font-weight="normal" >78.60% (115,137.62)</text>
<text x="599.3" y="127.5" font-size="6.7" fill="#131722" text-anchor="start" font-weight="normal" >61.80% (106,453.43)</text>
<text x="599.3" y="146.1" font-size="6.7" fill="#131722" text-anchor="start" font-weight="normal" >50.00% (100,353.82)</text>
<text x="599.3" y="224.7" font-size="6.7" fill="#131722" text-anchor="start" font-weight="normal" >0.00% (74,508.00)</text>
<text x="803.5" y="61.1" font-size="6.8" fill="#4a9a4e" text-anchor="end" font-weight="bold" >New ATH</text>
<text x="803.5" y="79.9" font-size="6.8" fill="#2f5bd8" text-anchor="end" font-weight="bold" >Psychological level</text>
<text x="803.3" y="148.7" font-size="7" fill="#cc3352" text-anchor="end" font-weight="normal" stroke="#cc3352" stroke-width="0.15">Daily S/R</text>
<text x="813.3" y="177.7" font-size="7" fill="#3b3e47" text-anchor="start" font-weight="normal" >90,000.00</text>
<text x="813.3" y="208.1" font-size="7" fill="#3b3e47" text-anchor="start" font-weight="normal" >80,000.00</text>
<text x="813.3" y="238.5" font-size="7" fill="#3b3e47" text-anchor="start" font-weight="normal" >70,000.00</text>
<rect x="808.2" y="48.6" width="43.6" height="9.6" fill="#2962ff"/><text x="813.6" y="55.9" font-size="7" fill="#fff" text-anchor="start" font-weight="normal" >130,000.00</text>
<rect x="808.2" y="59.9" width="43.6" height="9.6" fill="#43a047"/><text x="813.6" y="67.2" font-size="7" fill="#fff" text-anchor="start" font-weight="normal" >126,199.63</text>
<rect x="808.2" y="79.0" width="43.6" height="9.6" fill="#2962ff"/><text x="813.6" y="86.3" font-size="7" fill="#fff" text-anchor="start" font-weight="normal" >120,000.00</text>
<rect x="808.2" y="107.3" width="43.6" height="9.6" fill="#e8141f"/><text x="813.6" y="114.6" font-size="7" fill="#fff" text-anchor="start" font-weight="normal" >110,896.38</text>
<rect x="808.2" y="137.3" width="43.6" height="18.2" fill="#e0304f"/>
<text x="813.6" y="144.2" font-size="7" fill="#fff" text-anchor="start" font-weight="normal" >101,065.47</text>
<text x="813.6" y="152.8" font-size="7" fill="#f9c5cf" text-anchor="start" font-weight="normal" >13:49:52</text>
<rect x="808.2" y="155.2" width="39.7" height="9.6" fill="#e0304f"/><text x="813.6" y="162.5" font-size="7" fill="#fff" text-anchor="start" font-weight="normal" >97,460.00</text>
<rect x="808.2" y="186.1" width="39.7" height="9.6" fill="#e0304f"/><text x="813.6" y="193.4" font-size="7" fill="#fff" text-anchor="start" font-weight="normal" >85,000.00</text>
<rect x="808.2" y="220.1" width="39.7" height="9.6" fill="#9b1fc0"/><text x="813.6" y="227.4" font-size="7" fill="#fff" text-anchor="start" font-weight="normal" >73,719.53</text>
<rect x="809.5" y="21.5" width="39.5" height="11" fill="#fff" stroke="#eef0f3" stroke-width="0.6"/>
<text x="815.8" y="29" font-size="8" fill="#131722" text-anchor="start" font-weight="normal" textLength="16" lengthAdjust="spacingAndGlyphs">USDT</text>
<defs><pattern id="rp" x="6.6" width="8" height="10" patternUnits="userSpaceOnUse"><rect width="8" height="10" fill="#eff5fb"/><rect x="0" width="1.3" height="10" fill="#f5dbea"/><rect x="1.6" width="1.8" height="10" fill="#e2f5f9"/><rect x="3.6" width="1.6" height="10" fill="#f8f9fd"/></pattern></defs>
<rect x="6" y="261.2" width="801.5" height="53.2" fill="url(#rp)"/>
<path d="M6 261.5H807.5M6 314.5H807.5" stroke="#8f929b" stroke-width="0.8" stroke-dasharray="2.2 2.5"/>
<path d="M7.0 302.7 L9.3 303.0 L11.6 303.1 L13.9 303.0 L16.2 303.5 L18.5 303.8 L20.9 304.3 L23.2 305.4 L25.5 305.6 L27.8 304.7 L30.1 303.1 L32.5 301.9 L34.8 300.2 L37.1 299.0 L39.4 299.9 L41.7 299.4 L44.0 299.2 L46.4 299.0 L48.7 299.0 L51.0 298.6 L53.3 298.2 L55.6 296.7 L58.0 294.9 L60.3 293.8 L62.6 292.9 L64.9 291.6 L67.2 291.4 L69.5 291.6 L71.9 291.6 L74.2 291.8 L76.5 291.2 L78.8 291.8 L81.1 291.9 L83.5 291.8 L85.8 291.7 L88.1 292.9 L90.4 294.2 L92.7 295.9 L95.0 296.2 L97.4 297.0 L99.7 296.5 L102.0 295.5 L104.3 294.7 L106.6 293.7 L109.0 293.6 L111.3 292.9 L113.6 292.2 L115.9 291.8 L118.2 291.1 L120.5 289.5 L122.9 287.6 L125.2 284.5 L127.5 282.6 L129.8 280.2 L132.1 278.5 L134.4 277.0 L136.8 275.5 L139.1 273.9 L141.4 272.5 L143.7 271.1 L146.0 269.5 L148.4 267.7 L150.7 266.5 L153.0 265.8 L155.3 265.5 L157.6 265.6 L159.9 265.7 L162.3 265.0 L164.6 264.5 L166.9 263.7 L169.2 262.9 L171.5 262.8 L173.9 262.2 L176.2 261.8 L178.5 261.8 L180.8 261.9 L183.1 261.8 L185.4 260.6 L187.8 259.8 L190.1 259.2 L192.4 258.3 L194.7 258.0 L197.0 259.1 L199.4 260.3 L201.7 261.1 L204.0 261.4 L206.3 262.0 L208.6 262.7 L210.9 264.2 L213.3 266.0 L215.6 267.4 L217.9 269.2 L220.2 270.6 L222.5 272.4 L224.9 274.7 L227.2 278.2 L229.5 279.4 L231.8 280.4 L234.1 281.5 L236.4 281.9 L238.8 282.0 L241.1 282.3 L243.4 282.6 L245.7 282.5 L248.0 282.7 L250.3 283.1 L252.7 283.3 L255.0 283.9 L257.3 284.2 L259.6 283.7 L261.9 284.3 L264.3 285.6 L266.6 287.1 L268.9 288.3 L271.2 289.2 L273.5 289.4 L275.8 289.1 L278.2 288.7 L280.5 288.1 L282.8 287.2 L285.1 287.1 L287.4 286.9 L289.8 285.9 L292.1 284.7 L294.4 283.7 L296.7 282.3 L299.0 280.4 L301.3 280.1 L303.7 279.8 L306.0 279.2 L308.3 277.7 L310.6 276.0 L312.9 274.5 L315.3 272.9 L317.6 270.9 L319.9 269.1 L322.2 268.1 L324.5 267.1 L326.8 266.1 L329.2 265.1 L331.5 264.6 L333.8 263.8 L336.1 262.6 L338.4 262.5 L340.8 263.3 L343.1 264.6 L345.4 265.8 L347.7 266.9 L350.0 268.5 L352.3 269.5 L354.7 270.6 L357.0 272.6 L359.3 274.8 L361.6 277.2 L363.9 278.8 L366.2 280.2 L368.6 282.4 L370.9 283.8 L373.2 284.3 L375.5 284.9 L377.8 285.6 L380.2 285.9 L382.5 285.9 L384.8 285.5 L387.1 284.5 L389.4 284.1 L391.7 283.3 L394.1 282.2 L396.4 281.7 L398.7 281.8 L401.0 282.4 L403.3 282.9 L405.7 284.4 L408.0 284.6 L410.3 285.1 L412.6 286.7 L414.9 288.6 L417.2 290.4 L419.6 293.0 L421.9 293.8 L424.2 295.1 L426.5 296.2 L428.8 297.5 L431.2 298.2 L433.5 297.6 L435.8 297.4 L438.1 297.0 L440.4 297.7 L442.7 298.1 L445.1 297.9 L447.4 296.9 L449.7 296.4 L452.0 295.2 L454.3 294.0 L456.7 291.9 L459.0 290.0 L461.3 288.2 L463.6 286.7 L465.9 285.2 L468.2 284.0 L470.6 282.4 L472.9 281.4 L475.2 280.2 L477.5 279.5 L479.8 280.0 L482.2 280.5 L484.5 281.2 L486.8 283.2 L489.1 285.2 L491.4 287.2 L493.7 288.1 L496.1 288.4 L498.4 289.2 L500.7 288.8 L503.0 288.3 L505.3 287.1 L507.6 285.8 L510.0 284.1 L512.3 281.4 L514.6 279.6 L516.9 277.9 L519.2 275.6 L521.6 275.3 L523.9 275.3 L526.2 275.3 L528.5 275.9 L530.8 276.7 L533.1 278.8 L535.5 281.6 L537.8 284.8 L540.1 287.9 L542.4 290.8 L544.7 293.5 L547.1 295.5 L549.4 297.9 L551.7 299.3 L554.0 298.9 L556.3 298.0 L558.6 297.3 L561.0 296.8 L563.3 296.2 L565.6 295.8 L567.9 295.4 L570.2 294.5 L572.6 293.6 L574.9 292.9 L577.2 293.4 L579.5 294.2 L581.8 294.4 L584.1 295.3 L586.5 296.5" fill="none" stroke="#ebd9a8" stroke-width="1"/>
<path d="M7.0 286.2 L9.3 302.0 L11.6 299.5 L13.9 291.9 L16.2 293.2 L18.5 298.9 L20.9 299.9 L23.2 308.5 L25.5 311.4 L27.8 300.6 L30.1 298.9 L32.5 303.1 L34.8 296.3 L37.1 295.4 L39.4 298.6 L41.7 295.1 L44.0 297.6 L46.4 287.9 L48.7 293.3 L51.0 293.6 L53.3 294.0 L55.6 288.4 L58.0 285.0 L60.3 285.3 L62.6 286.6 L64.9 285.7 L67.2 293.5 L69.5 297.9 L71.9 298.6 L74.2 298.0 L76.5 289.2 L78.8 296.4 L81.1 294.1 L83.5 291.9 L85.8 292.9 L88.1 305.9 L90.4 303.2 L92.7 309.2 L95.0 290.1 L97.4 296.5 L99.7 287.4 L102.0 283.5 L104.3 287.0 L106.6 285.1 L109.0 287.5 L111.3 286.5 L113.6 284.2 L115.9 285.5 L118.2 283.8 L120.5 283.6 L122.9 277.0 L125.2 264.6 L127.5 264.1 L129.8 263.6 L132.1 262.4 L134.4 262.4 L136.8 266.4 L139.1 263.6 L141.4 266.9 L143.7 267.3 L146.0 261.7 L148.4 260.8 L150.7 266.2 L153.0 273.9 L155.3 272.5 L157.6 266.7 L159.9 266.1 L162.3 253.4 L164.6 254.7 L166.9 252.0 L169.2 255.0 L171.5 261.5 L173.9 258.7 L176.2 261.9 L178.5 261.4 L180.8 262.8 L183.1 264.5 L185.4 256.7 L187.8 261.4 L190.1 258.7 L192.4 253.1 L194.7 249.9 L197.0 270.0 L199.4 268.8 L201.7 266.1 L204.0 265.2 L206.3 267.2 L208.6 272.7 L210.9 281.6 L213.3 287.5 L215.6 285.3 L217.9 281.9 L220.2 281.1 L222.5 283.1 L224.9 286.1 L227.2 297.8 L229.5 287.0 L231.8 282.9 L234.1 282.3 L236.4 269.6 L238.8 269.8 L241.1 276.3 L243.4 286.3 L245.7 286.0 L248.0 287.9 L250.3 287.6 L252.7 283.0 L255.0 291.5 L257.3 290.2 L259.6 291.1 L261.9 296.1 L264.3 300.2 L266.6 303.9 L268.9 285.9 L271.2 283.4 L273.5 279.3 L275.8 280.9 L278.2 280.4 L280.5 279.6 L282.8 275.7 L285.1 281.8 L287.4 288.2 L289.8 276.7 L292.1 274.4 L294.4 281.5 L296.7 280.7 L299.0 277.2 L301.3 281.5 L303.7 279.1 L306.0 271.3 L308.3 259.9 L310.6 257.0 L312.9 257.4 L315.3 254.4 L317.6 253.1 L319.9 263.8 L322.2 261.8 L324.5 260.6 L326.8 267.0 L329.2 267.5 L331.5 270.5 L333.8 270.1 L336.1 262.7 L338.4 269.2 L340.8 271.4 L343.1 275.2 L345.4 274.1 L347.7 269.0 L350.0 276.4 L352.3 277.0 L354.7 277.6 L357.0 288.4 L359.3 298.5 L361.6 301.2 L363.9 293.0 L366.2 289.2 L368.6 293.0 L370.9 289.0 L373.2 279.1 L375.5 282.7 L377.8 283.7 L380.2 273.4 L382.5 276.4 L384.8 271.7 L387.1 263.2 L389.4 283.5 L391.7 286.6 L394.1 286.4 L396.4 286.4 L398.7 290.6 L401.0 300.9 L403.3 295.5 L405.7 300.5 L408.0 285.8 L410.3 290.3 L412.6 295.4 L414.9 303.1 L417.2 297.7 L419.6 299.1 L421.9 294.7 L424.2 304.2 L426.5 302.7 L428.8 304.0 L431.2 300.4 L433.5 293.6 L435.8 292.1 L438.1 294.9 L440.4 295.1 L442.7 296.6 L445.1 292.7 L447.4 289.1 L449.7 291.0 L452.0 282.0 L454.3 277.1 L456.7 275.4 L459.0 275.8 L461.3 279.1 L463.6 278.8 L465.9 273.4 L468.2 275.2 L470.6 272.7 L472.9 280.7 L475.2 280.5 L477.5 282.8 L479.8 295.2 L482.2 298.2 L484.5 291.3 L486.8 306.4 L489.1 303.0 L491.4 303.1 L493.7 291.7 L496.1 283.0 L498.4 284.4 L500.7 270.6 L503.0 265.9 L505.3 262.6 L507.6 262.3 L510.0 260.0 L512.3 257.6 L514.6 272.4 L516.9 268.0 L519.2 274.5 L521.6 297.9 L523.9 302.9 L526.2 291.7 L528.5 291.2 L530.8 295.8 L533.1 300.2 L535.5 304.9 L537.8 307.7 L540.1 305.5 L542.4 301.0 L544.7 295.5 L547.1 300.0 L549.4 301.6 L551.7 294.5 L554.0 291.8 L556.3 290.1 L558.6 282.6 L561.0 283.6 L563.3 287.1 L565.6 294.9 L567.9 299.0 L570.2 295.1 L572.6 293.4 L574.9 291.6 L577.2 302.0 L579.5 311.4 L581.8 303.8 L584.1 308.3 L586.5 308.7" fill="none" stroke="#5e58bf" stroke-width="0.8"/>
<text x="813.3" y="250.4" font-size="7" fill="#3b3e47" text-anchor="start" font-weight="normal" >80.00</text>
<text x="813.3" y="277.0" font-size="7" fill="#3b3e47" text-anchor="start" font-weight="normal" >60.00</text>
<text x="813.3" y="303.6" font-size="7" fill="#3b3e47" text-anchor="start" font-weight="normal" >40.00</text>
<rect x="807.9" y="291.8" width="26.1" height="9.6" fill="#f6c22e"/>
<text x="813.6" y="299.2" font-size="7" fill="#131722" text-anchor="start" font-weight="normal" >43.48</text>
<rect x="807.9" y="303.7" width="26.1" height="9.9" fill="#6b4fd1"/>
<text x="813.6" y="311.2" font-size="7" fill="#fff" text-anchor="start" font-weight="normal" >34.25</text>
<rect x="6.36" y="335.7" width="1.2" height="24.0" fill="#8ccbc4"/>
<rect x="8.68" y="333.2" width="1.2" height="26.5" fill="#f0a9b4"/>
<rect x="11.00" y="339.1" width="1.2" height="20.6" fill="#8ccbc4"/>
<rect x="13.31" y="341.5" width="1.2" height="18.2" fill="#8ccbc4"/>
<rect x="15.63" y="343.9" width="1.2" height="15.8" fill="#f0a9b4"/>
<rect x="17.95" y="333.7" width="1.2" height="26.0" fill="#f0a9b4"/>
<rect x="20.27" y="353.1" width="1.2" height="6.6" fill="#f0a9b4"/>
<rect x="22.59" y="347.5" width="1.2" height="12.2" fill="#f0a9b4"/>
<rect x="24.90" y="338.8" width="1.2" height="20.9" fill="#f0a9b4"/>
<rect x="27.22" y="337.8" width="1.2" height="21.9" fill="#8ccbc4"/>
<rect x="29.54" y="345.4" width="1.2" height="14.3" fill="#8ccbc4"/>
<rect x="31.86" y="347.5" width="1.2" height="12.2" fill="#f0a9b4"/>
<rect x="34.18" y="348.0" width="1.2" height="11.7" fill="#8ccbc4"/>
<rect x="36.49" y="355.1" width="1.2" height="4.6" fill="#8ccbc4"/>
<rect x="38.81" y="352.1" width="1.2" height="7.6" fill="#f0a9b4"/>
<rect x="41.13" y="352.1" width="1.2" height="7.6" fill="#8ccbc4"/>
<rect x="43.45" y="352.1" width="1.2" height="7.6" fill="#f0a9b4"/>
<rect x="45.77" y="346.5" width="1.2" height="13.2" fill="#8ccbc4"/>
<rect x="48.08" y="350.0" width="1.2" height="9.7" fill="#f0a9b4"/>
<rect x="50.40" y="354.1" width="1.2" height="5.6" fill="#f0a9b4"/>
<rect x="52.72" y="356.7" width="1.2" height="3.0" fill="#f0a9b4"/>
<rect x="55.04" y="355.1" width="1.2" height="4.6" fill="#8ccbc4"/>
<rect x="57.36" y="347.0" width="1.2" height="12.7" fill="#8ccbc4"/>
<rect x="59.67" y="349.0" width="1.2" height="10.7" fill="#f0a9b4"/>
<rect x="61.99" y="351.0" width="1.2" height="8.7" fill="#f0a9b4"/>
<rect x="64.31" y="352.1" width="1.2" height="7.6" fill="#8ccbc4"/>
<rect x="66.63" y="347.5" width="1.2" height="12.2" fill="#f0a9b4"/>
<rect x="68.95" y="353.6" width="1.2" height="6.1" fill="#f0a9b4"/>
<rect x="71.26" y="355.1" width="1.2" height="4.6" fill="#f0a9b4"/>
<rect x="73.58" y="350.5" width="1.2" height="9.2" fill="#8ccbc4"/>
<rect x="75.90" y="350.5" width="1.2" height="9.2" fill="#8ccbc4"/>
<rect x="78.22" y="341.9" width="1.2" height="17.8" fill="#f0a9b4"/>
<rect x="80.54" y="348.0" width="1.2" height="11.7" fill="#8ccbc4"/>
<rect x="82.85" y="344.9" width="1.2" height="14.8" fill="#8ccbc4"/>
<rect x="85.17" y="354.8" width="1.2" height="4.9" fill="#f0a9b4"/>
<rect x="87.49" y="347.1" width="1.2" height="12.6" fill="#f0a9b4"/>
<rect x="89.81" y="325.8" width="1.2" height="33.9" fill="#8ccbc4"/>
<rect x="92.13" y="343.7" width="1.2" height="16.0" fill="#f0a9b4"/>
<rect x="94.44" y="326.9" width="1.2" height="32.8" fill="#8ccbc4"/>
<rect x="96.76" y="345.0" width="1.2" height="14.7" fill="#f0a9b4"/>
<rect x="99.08" y="344.4" width="1.2" height="15.3" fill="#8ccbc4"/>
<rect x="101.40" y="350.6" width="1.2" height="9.1" fill="#8ccbc4"/>
<rect x="103.72" y="348.5" width="1.2" height="11.2" fill="#f0a9b4"/>
<rect x="106.03" y="347.1" width="1.2" height="12.6" fill="#8ccbc4"/>
<rect x="108.35" y="349.9" width="1.2" height="9.8" fill="#f0a9b4"/>
<rect x="110.67" y="349.9" width="1.2" height="9.8" fill="#8ccbc4"/>
<rect x="112.99" y="352.7" width="1.2" height="7.0" fill="#8ccbc4"/>
<rect x="115.31" y="356.2" width="1.2" height="3.5" fill="#f0a9b4"/>
<rect x="117.62" y="354.8" width="1.2" height="4.9" fill="#8ccbc4"/>
<rect x="119.94" y="354.8" width="1.2" height="4.9" fill="#8ccbc4"/>
<rect x="122.26" y="345.7" width="1.2" height="14.0" fill="#8ccbc4"/>
<rect x="124.58" y="340.2" width="1.2" height="19.5" fill="#8ccbc4"/>
<rect x="126.90" y="347.8" width="1.2" height="11.9" fill="#8ccbc4"/>
<rect x="129.21" y="349.9" width="1.2" height="9.8" fill="#8ccbc4"/>
<rect x="131.53" y="347.1" width="1.2" height="12.6" fill="#8ccbc4"/>
<rect x="133.85" y="354.1" width="1.2" height="5.6" fill="#f0a9b4"/>
<rect x="136.17" y="354.1" width="1.2" height="5.6" fill="#f0a9b4"/>
<rect x="138.49" y="349.9" width="1.2" height="9.8" fill="#8ccbc4"/>
<rect x="140.80" y="351.3" width="1.2" height="8.4" fill="#f0a9b4"/>
<rect x="143.12" y="352.0" width="1.2" height="7.7" fill="#f0a9b4"/>
<rect x="145.44" y="349.2" width="1.2" height="10.5" fill="#8ccbc4"/>
<rect x="147.76" y="353.4" width="1.2" height="6.3" fill="#8ccbc4"/>
<rect x="150.08" y="354.8" width="1.2" height="4.9" fill="#f0a9b4"/>
<rect x="152.39" y="353.4" width="1.2" height="6.3" fill="#f0a9b4"/>
<rect x="154.71" y="352.0" width="1.2" height="7.7" fill="#8ccbc4"/>
<rect x="157.03" y="352.0" width="1.2" height="7.7" fill="#8ccbc4"/>
<rect x="159.35" y="352.0" width="1.2" height="7.7" fill="#8ccbc4"/>
<rect x="161.67" y="343.7" width="1.2" height="16.0" fill="#8ccbc4"/>
<rect x="163.98" y="347.1" width="1.2" height="12.6" fill="#f0a9b4"/>
<rect x="166.30" y="352.0" width="1.2" height="7.7" fill="#8ccbc4"/>
<rect x="168.62" y="352.0" width="1.2" height="7.7" fill="#f0a9b4"/>
<rect x="170.94" y="345.7" width="1.2" height="14.0" fill="#f0a9b4"/>
<rect x="173.26" y="349.9" width="1.2" height="9.8" fill="#8ccbc4"/>
<rect x="175.57" y="352.0" width="1.2" height="7.7" fill="#f0a9b4"/>
<rect x="177.89" y="352.0" width="1.2" height="7.7" fill="#8ccbc4"/>
<rect x="180.21" y="352.7" width="1.2" height="7.0" fill="#f0a9b4"/>
<rect x="182.53" y="354.1" width="1.2" height="5.6" fill="#f0a9b4"/>
<rect x="184.85" y="349.9" width="1.2" height="9.8" fill="#8ccbc4"/>
<rect x="187.16" y="345.7" width="1.2" height="14.0" fill="#f0a9b4"/>
<rect x="189.48" y="348.5" width="1.2" height="11.2" fill="#8ccbc4"/>
<rect x="191.80" y="339.5" width="1.2" height="20.2" fill="#8ccbc4"/>
<rect x="194.12" y="345.0" width="1.2" height="14.7" fill="#8ccbc4"/>
<rect x="196.44" y="345.0" width="1.2" height="14.7" fill="#f0a9b4"/>
<rect x="198.75" y="352.0" width="1.2" height="7.7" fill="#8ccbc4"/>
<rect x="201.07" y="352.0" width="1.2" height="7.7" fill="#8ccbc4"/>
<rect x="203.39" y="352.0" width="1.2" height="7.7" fill="#8ccbc4"/>
<rect x="205.71" y="350.4" width="1.2" height="9.3" fill="#f0a9b4"/>
<rect x="208.03" y="351.3" width="1.2" height="8.4" fill="#f0a9b4"/>
<rect x="210.34" y="350.6" width="1.2" height="9.1" fill="#f0a9b4"/>
<rect x="212.66" y="349.0" width="1.2" height="10.7" fill="#f0a9b4"/>
<rect x="214.98" y="354.1" width="1.2" height="5.6" fill="#8ccbc4"/>
<rect x="217.30" y="354.1" width="1.2" height="5.6" fill="#8ccbc4"/>
<rect x="219.62" y="353.4" width="1.2" height="6.3" fill="#8ccbc4"/>
<rect x="221.93" y="352.7" width="1.2" height="7.0" fill="#f0a9b4"/>
<rect x="224.25" y="352.7" width="1.2" height="7.0" fill="#f0a9b4"/>
<rect x="226.57" y="349.9" width="1.2" height="9.8" fill="#f0a9b4"/>
<rect x="228.89" y="352.0" width="1.2" height="7.7" fill="#8ccbc4"/>
<rect x="231.21" y="354.8" width="1.2" height="4.9" fill="#8ccbc4"/>
<rect x="233.52" y="353.4" width="1.2" height="6.3" fill="#8ccbc4"/>
<rect x="235.84" y="350.9" width="1.2" height="8.8" fill="#8ccbc4"/>
<rect x="238.16" y="352.0" width="1.2" height="7.7" fill="#f0a9b4"/>
<rect x="240.48" y="352.0" width="1.2" height="7.7" fill="#f0a9b4"/>
<rect x="242.80" y="352.0" width="1.2" height="7.7" fill="#f0a9b4"/>
<rect x="245.11" y="347.8" width="1.2" height="11.9" fill="#8ccbc4"/>
<rect x="247.43" y="355.5" width="1.2" height="4.2" fill="#f0a9b4"/>
<rect x="249.75" y="354.8" width="1.2" height="4.9" fill="#8ccbc4"/>
<rect x="252.07" y="352.7" width="1.2" height="7.0" fill="#8ccbc4"/>
<rect x="254.39" y="352.0" width="1.2" height="7.7" fill="#f0a9b4"/>
<rect x="256.70" y="352.7" width="1.2" height="7.0" fill="#8ccbc4"/>
<rect x="259.02" y="355.5" width="1.2" height="4.2" fill="#f0a9b4"/>
<rect x="261.34" y="352.7" width="1.2" height="7.0" fill="#f0a9b4"/>
<rect x="263.66" y="351.3" width="1.2" height="8.4" fill="#f0a9b4"/>
<rect x="265.98" y="347.1" width="1.2" height="12.6" fill="#f0a9b4"/>
<rect x="268.29" y="348.5" width="1.2" height="11.2" fill="#8ccbc4"/>
<rect x="270.61" y="352.7" width="1.2" height="7.0" fill="#8ccbc4"/>
<rect x="272.93" y="352.7" width="1.2" height="7.0" fill="#8ccbc4"/>
<rect x="275.25" y="354.1" width="1.2" height="5.6" fill="#f0a9b4"/>
<rect x="277.57" y="354.8" width="1.2" height="4.9" fill="#8ccbc4"/>
<rect x="279.88" y="356.5" width="1.2" height="3.2" fill="#8ccbc4"/>
<rect x="282.20" y="356.5" width="1.2" height="3.2" fill="#8ccbc4"/>
<rect x="284.52" y="355.5" width="1.2" height="4.2" fill="#f0a9b4"/>
<rect x="286.84" y="352.7" width="1.2" height="7.0" fill="#f0a9b4"/>
<rect x="289.16" y="352.7" width="1.2" height="7.0" fill="#8ccbc4"/>
<rect x="291.47" y="354.1" width="1.2" height="5.6" fill="#8ccbc4"/>
<rect x="293.79" y="354.8" width="1.2" height="4.9" fill="#f0a9b4"/>
<rect x="296.11" y="356.9" width="1.2" height="2.8" fill="#8ccbc4"/>
<rect x="298.43" y="355.9" width="1.2" height="3.8" fill="#8ccbc4"/>
<rect x="300.75" y="354.8" width="1.2" height="4.9" fill="#f0a9b4"/>
<rect x="303.06" y="354.1" width="1.2" height="5.6" fill="#8ccbc4"/>
<rect x="305.38" y="352.7" width="1.2" height="7.0" fill="#8ccbc4"/>
<rect x="307.70" y="348.5" width="1.2" height="11.2" fill="#8ccbc4"/>
<rect x="310.02" y="347.8" width="1.2" height="11.9" fill="#8ccbc4"/>
<rect x="312.34" y="353.4" width="1.2" height="6.3" fill="#f0a9b4"/>
<rect x="314.65" y="355.5" width="1.2" height="4.2" fill="#8ccbc4"/>
<rect x="316.97" y="347.1" width="1.2" height="12.6" fill="#8ccbc4"/>
<rect x="319.29" y="345.0" width="1.2" height="14.7" fill="#f0a9b4"/>
<rect x="321.61" y="352.0" width="1.2" height="7.7" fill="#8ccbc4"/>
<rect x="323.93" y="352.0" width="1.2" height="7.7" fill="#8ccbc4"/>
<rect x="326.24" y="350.6" width="1.2" height="9.1" fill="#f0a9b4"/>
<rect x="328.56" y="356.9" width="1.2" height="2.8" fill="#f0a9b4"/>
<rect x="330.88" y="352.7" width="1.2" height="7.0" fill="#f0a9b4"/>
<rect x="333.20" y="352.0" width="1.2" height="7.7" fill="#8ccbc4"/>
<rect x="335.52" y="350.6" width="1.2" height="9.1" fill="#8ccbc4"/>
<rect x="337.83" y="352.7" width="1.2" height="7.0" fill="#f0a9b4"/>
<rect x="340.15" y="352.0" width="1.2" height="7.7" fill="#f0a9b4"/>
<rect x="342.47" y="342.3" width="1.2" height="17.4" fill="#f0a9b4"/>
<rect x="344.79" y="354.8" width="1.2" height="4.9" fill="#8ccbc4"/>
<rect x="347.11" y="354.1" width="1.2" height="5.6" fill="#8ccbc4"/>
<rect x="349.42" y="352.7" width="1.2" height="7.0" fill="#f0a9b4"/>
<rect x="351.74" y="352.7" width="1.2" height="7.0" fill="#f0a9b4"/>
<rect x="354.06" y="352.0" width="1.2" height="7.7" fill="#f0a9b4"/>
<rect x="356.38" y="352.0" width="1.2" height="7.7" fill="#f0a9b4"/>
<rect x="358.70" y="348.5" width="1.2" height="11.2" fill="#f0a9b4"/>
<rect x="361.01" y="354.1" width="1.2" height="5.6" fill="#f0a9b4"/>
<rect x="363.33" y="355.5" width="1.2" height="4.2" fill="#8ccbc4"/>
<rect x="365.65" y="354.8" width="1.2" height="4.9" fill="#8ccbc4"/>
<rect x="367.97" y="354.1" width="1.2" height="5.6" fill="#f0a9b4"/>
<rect x="370.29" y="354.1" width="1.2" height="5.6" fill="#8ccbc4"/>
<rect x="372.60" y="354.8" width="1.2" height="4.9" fill="#8ccbc4"/>
<rect x="374.92" y="355.5" width="1.2" height="4.2" fill="#f0a9b4"/>
<rect x="377.24" y="354.1" width="1.2" height="5.6" fill="#f0a9b4"/>
<rect x="379.56" y="352.7" width="1.2" height="7.0" fill="#8ccbc4"/>
<rect x="381.88" y="347.8" width="1.2" height="11.9" fill="#f0a9b4"/>
<rect x="384.19" y="352.0" width="1.2" height="7.7" fill="#8ccbc4"/>
<rect x="386.51" y="349.2" width="1.2" height="10.5" fill="#8ccbc4"/>
<rect x="388.83" y="346.4" width="1.2" height="13.3" fill="#f0a9b4"/>
<rect x="391.15" y="353.4" width="1.2" height="6.3" fill="#f0a9b4"/>
<rect x="393.47" y="356.9" width="1.2" height="2.8" fill="#8ccbc4"/>
<rect x="395.78" y="356.2" width="1.2" height="3.5" fill="#8ccbc4"/>
<rect x="398.10" y="352.0" width="1.2" height="7.7" fill="#f0a9b4"/>
<rect x="400.42" y="350.6" width="1.2" height="9.1" fill="#f0a9b4"/>
<rect x="402.74" y="351.3" width="1.2" height="8.4" fill="#8ccbc4"/>
<rect x="405.06" y="353.4" width="1.2" height="6.3" fill="#f0a9b4"/>
<rect x="407.37" y="349.2" width="1.2" height="10.5" fill="#8ccbc4"/>
<rect x="409.69" y="354.1" width="1.2" height="5.6" fill="#f0a9b4"/>
<rect x="412.01" y="349.9" width="1.2" height="9.8" fill="#f0a9b4"/>
<rect x="414.33" y="348.5" width="1.2" height="11.2" fill="#f0a9b4"/>
<rect x="416.65" y="351.3" width="1.2" height="8.4" fill="#8ccbc4"/>
<rect x="418.96" y="353.4" width="1.2" height="6.3" fill="#f0a9b4"/>
<rect x="421.28" y="354.1" width="1.2" height="5.6" fill="#8ccbc4"/>
<rect x="423.60" y="349.2" width="1.2" height="10.5" fill="#f0a9b4"/>
<rect x="425.92" y="352.0" width="1.2" height="7.7" fill="#8ccbc4"/>
<rect x="428.24" y="355.5" width="1.2" height="4.2" fill="#f0a9b4"/>
<rect x="430.55" y="352.0" width="1.2" height="7.7" fill="#8ccbc4"/>
<rect x="432.87" y="351.6" width="1.2" height="8.1" fill="#8ccbc4"/>
<rect x="435.19" y="353.9" width="1.2" height="5.8" fill="#8ccbc4"/>
<rect x="437.51" y="353.9" width="1.2" height="5.8" fill="#f0a9b4"/>
<rect x="439.83" y="350.4" width="1.2" height="9.3" fill="#f0a9b4"/>
<rect x="442.14" y="357.4" width="1.2" height="2.3" fill="#f0a9b4"/>
<rect x="444.46" y="356.2" width="1.2" height="3.5" fill="#8ccbc4"/>
<rect x="446.78" y="355.0" width="1.2" height="4.7" fill="#8ccbc4"/>
<rect x="449.10" y="352.7" width="1.2" height="7.0" fill="#f0a9b4"/>
<rect x="451.42" y="352.1" width="1.2" height="7.6" fill="#8ccbc4"/>
<rect x="453.73" y="353.3" width="1.2" height="6.4" fill="#8ccbc4"/>
<rect x="456.05" y="353.3" width="1.2" height="6.4" fill="#8ccbc4"/>
<rect x="458.37" y="355.0" width="1.2" height="4.7" fill="#f0a9b4"/>
<rect x="460.69" y="357.4" width="1.2" height="2.3" fill="#f0a9b4"/>
<rect x="463.01" y="355.0" width="1.2" height="4.7" fill="#8ccbc4"/>
<rect x="465.32" y="354.5" width="1.2" height="5.2" fill="#8ccbc4"/>
<rect x="467.64" y="352.7" width="1.2" height="7.0" fill="#f0a9b4"/>
<rect x="469.96" y="353.9" width="1.2" height="5.8" fill="#8ccbc4"/>
<rect x="472.28" y="355.0" width="1.2" height="4.7" fill="#f0a9b4"/>
<rect x="474.60" y="357.4" width="1.2" height="2.3" fill="#8ccbc4"/>
<rect x="476.91" y="355.0" width="1.2" height="4.7" fill="#f0a9b4"/>
<rect x="479.23" y="350.4" width="1.2" height="9.3" fill="#f0a9b4"/>
<rect x="481.55" y="353.9" width="1.2" height="5.8" fill="#f0a9b4"/>
<rect x="483.87" y="355.0" width="1.2" height="4.7" fill="#8ccbc4"/>
<rect x="486.19" y="350.4" width="1.2" height="9.3" fill="#f0a9b4"/>
<rect x="488.50" y="355.0" width="1.2" height="4.7" fill="#8ccbc4"/>
<rect x="490.82" y="357.4" width="1.2" height="2.3" fill="#f0a9b4"/>
<rect x="493.14" y="355.0" width="1.2" height="4.7" fill="#8ccbc4"/>
<rect x="495.46" y="353.3" width="1.2" height="6.4" fill="#8ccbc4"/>
<rect x="497.78" y="352.7" width="1.2" height="7.0" fill="#f0a9b4"/>
<rect x="500.09" y="351.0" width="1.2" height="8.7" fill="#8ccbc4"/>
<rect x="502.41" y="351.6" width="1.2" height="8.1" fill="#8ccbc4"/>
<rect x="504.73" y="349.2" width="1.2" height="10.5" fill="#8ccbc4"/>
<rect x="507.05" y="353.9" width="1.2" height="5.8" fill="#8ccbc4"/>
<rect x="509.37" y="349.8" width="1.2" height="9.9" fill="#8ccbc4"/>
<rect x="511.68" y="351.0" width="1.2" height="8.7" fill="#8ccbc4"/>
<rect x="514.00" y="349.8" width="1.2" height="9.9" fill="#f0a9b4"/>
<rect x="516.32" y="352.1" width="1.2" height="7.6" fill="#8ccbc4"/>
<rect x="518.64" y="349.8" width="1.2" height="9.9" fill="#f0a9b4"/>
<rect x="520.96" y="331.9" width="1.2" height="27.8" fill="#f0a9b4"/>
<rect x="523.27" y="344.1" width="1.2" height="15.6" fill="#f0a9b4"/>
<rect x="525.59" y="346.1" width="1.2" height="13.6" fill="#8ccbc4"/>
<rect x="527.91" y="349.2" width="1.2" height="10.5" fill="#8ccbc4"/>
<rect x="530.23" y="345.6" width="1.2" height="14.1" fill="#f0a9b4"/>
<rect x="532.55" y="349.2" width="1.2" height="10.5" fill="#f0a9b4"/>
<rect x="534.86" y="346.7" width="1.2" height="13.0" fill="#f0a9b4"/>
<rect x="537.18" y="343.1" width="1.2" height="16.6" fill="#f0a9b4"/>
<rect x="539.50" y="355.4" width="1.2" height="4.3" fill="#8ccbc4"/>
<rect x="541.82" y="352.8" width="1.2" height="6.9" fill="#8ccbc4"/>
<rect x="544.14" y="350.7" width="1.2" height="9.0" fill="#8ccbc4"/>
<rect x="546.45" y="343.1" width="1.2" height="16.6" fill="#f0a9b4"/>
<rect x="548.77" y="347.2" width="1.2" height="12.5" fill="#f0a9b4"/>
<rect x="551.09" y="352.3" width="1.2" height="7.4" fill="#8ccbc4"/>
<rect x="553.41" y="352.8" width="1.2" height="6.9" fill="#8ccbc4"/>
<rect x="555.73" y="357.4" width="1.2" height="2.3" fill="#8ccbc4"/>
<rect x="558.04" y="353.8" width="1.2" height="5.9" fill="#8ccbc4"/>
<rect x="560.36" y="350.2" width="1.2" height="9.5" fill="#f0a9b4"/>
<rect x="562.68" y="352.3" width="1.2" height="7.4" fill="#f0a9b4"/>
<rect x="565.00" y="350.2" width="1.2" height="9.5" fill="#f0a9b4"/>
<rect x="567.32" y="348.2" width="1.2" height="11.5" fill="#f0a9b4"/>
<rect x="569.63" y="350.2" width="1.2" height="9.5" fill="#8ccbc4"/>
<rect x="571.95" y="356.3" width="1.2" height="3.4" fill="#8ccbc4"/>
<rect x="574.27" y="354.3" width="1.2" height="5.4" fill="#8ccbc4"/>
<rect x="576.59" y="347.2" width="1.2" height="12.5" fill="#f0a9b4"/>
<rect x="578.91" y="337.5" width="1.2" height="22.2" fill="#f0a9b4"/>
<rect x="581.22" y="344.6" width="1.2" height="15.1" fill="#8ccbc4"/>
<rect x="583.54" y="348.2" width="1.2" height="11.5" fill="#f0a9b4"/>
<rect x="585.86" y="354.8" width="1.2" height="4.9" fill="#f0a9b4"/>
<text x="813.3" y="340.3" font-size="7" fill="#3b3e47" text-anchor="start" font-weight="normal" >50K</text>
<rect x="808.2" y="350.1" width="27.5" height="9.4" fill="#e54558"/>
<text x="813.8" y="357.3" font-size="7" fill="#fff" text-anchor="start" font-weight="normal" >9.36K</text>
<text x="76.5" y="370.5" font-size="7" fill="#3b3e47" text-anchor="middle" font-weight="normal" >Apr</text>
<text x="146" y="370.5" font-size="7" fill="#3b3e47" text-anchor="middle" font-weight="normal" >May</text>
<text x="217.7" y="370.5" font-size="7" fill="#3b3e47" text-anchor="middle" font-weight="normal" >Jun</text>
<text x="287.4" y="370.5" font-size="7" fill="#3b3e47" text-anchor="middle" font-weight="normal" >Jul</text>
<text x="359.3" y="370.5" font-size="7" fill="#3b3e47" text-anchor="middle" font-weight="normal" >Aug</text>
<text x="431.5" y="370.5" font-size="7" fill="#3b3e47" text-anchor="middle" font-weight="normal" >Sep</text>
<text x="501.3" y="370.5" font-size="7" fill="#3b3e47" text-anchor="middle" font-weight="normal" >Oct</text>
<text x="573" y="370.5" font-size="7" fill="#3b3e47" text-anchor="middle" font-weight="normal" >Nov</text>
<text x="642.6" y="370.5" font-size="7" fill="#3b3e47" text-anchor="middle" font-weight="normal" >Dec</text>
<text x="714.4" y="370.5" font-size="7" fill="#3b3e47" text-anchor="middle" font-weight="bold" >2026</text>
<text x="786.2" y="370.5" font-size="7" fill="#3b3e47" text-anchor="middle" font-weight="normal" >Feb</text>
<text x="6" y="11.8" font-size="7" fill="#131722" text-anchor="start" font-weight="normal" stroke="#131722" stroke-width="0.1">M_MTrades created with TradingView.com, Nov 07, 2025 15:40 UTC+5:30</text>
<text x="10.9" y="27.8" font-size="7.1"><tspan fill="#3b3e47">Bitcoin / TetherUS · 1D · Binance</tspan><tspan fill="#3b3e47" dx="5.2">O</tspan><tspan fill="#e2566e">101,346.04</tspan><tspan fill="#3b3e47" dx="4.2">H</tspan><tspan fill="#e2566e">102,527.00</tspan><tspan fill="#3b3e47" dx="4.2">L</tspan><tspan fill="#e2566e">100,749.94</tspan><tspan fill="#3b3e47" dx="4.2">C</tspan><tspan fill="#e2566e">101,065.47</tspan><tspan fill="#e2566e" dx="3.8">−280.57 (−0.28%)</tspan></text>
<g fill="#131722"><path d="M7 389.3H13.3V398H10.1V392.6H7Z"/><circle cx="16" cy="391" r="1.75"/><path d="M15.3 398L19.2 389.3H24.9L21 398Z"/></g>
<text x="29.8" y="397.9" font-size="12" fill="#131722" text-anchor="start" font-weight="bold" >TradingView</text>
</svg>
</body></html>
